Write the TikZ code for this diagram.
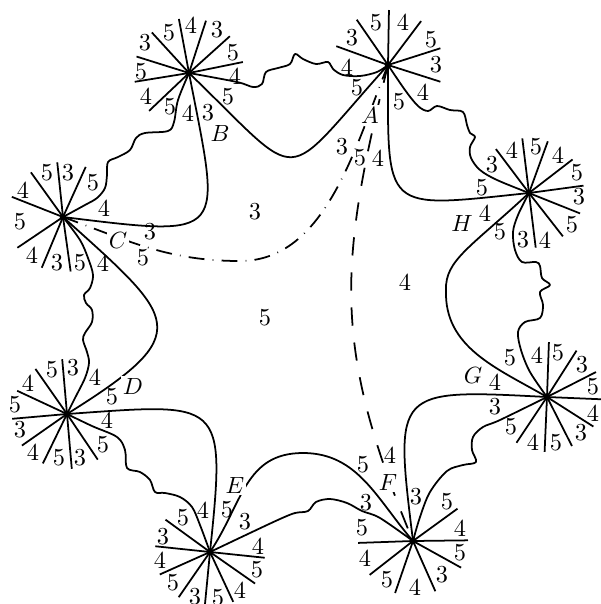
\documentclass[tikz,border=0pt]{standalone}
\begin{document}
\begin{tikzpicture}[x=0.015cm,y=-0.015cm,line width=0.75pt,line join=round,
  num/.style={inner sep=0pt,font=\fontsize{10.4}{12}\selectfont},
  vname/.style={inner sep=0.8pt,fill=white,font=\fontsize{10.4}{12}\selectfont},
  dashdotline/.style={dash pattern=on 6.8pt off 3.5pt on 0.3pt off 3.5pt},
  dashline/.style={dash pattern=on 7.8pt off 7.2pt},
  wav/.style={smooth,tension=0.55}]
\useasboundingbox (0,0) rectangle (601,604);
% vertices
\coordinate (A) at (388,65);
\coordinate (B) at (189,73);
\coordinate (C) at (63,217);
\coordinate (D) at (67,414);
\coordinate (E) at (210,552);
\coordinate (F) at (413,541);
\coordinate (G) at (547,397);
\coordinate (H) at (529,193);
\coordinate (ef) at (303,453);
\coordinate (gh) at (446,290);
\coordinate (ca) at (240,261);
% spokes
\foreach \a in {89,53,17.7,-17.7,160,124.6} \draw (A) -- ++(\a:0.825cm);
\foreach \a in {100.6,72,42,11.5,-136.5,-170.8,162.6,132.5} \draw (B) -- ++(\a:0.825cm);
\foreach \a in {96,65.6,-82,-112.7,-146,158.5,125.7} \draw (C) -- ++(\a:0.825cm);
\foreach \a in {95,-56,-85,-116,-145,-175,155,125} \draw (D) -- ++(\a:0.825cm);
\foreach \a in {-6,-35,-65,-95.5,-124.7,-155.9,174,144} \draw (E) -- ++(\a:0.825cm);
\foreach \a in {36,0.7,-29,-66,-109,-142,-178} \draw (F) -- ++(\a:0.825cm);
\foreach \a in {88,57.5,27,-2.4,-32.5,-63,-92.5,-123.7} \draw (G) -- ++(\a:0.825cm);
\foreach \a in {127,97,70,37.6,7.7,-21.8,-52,-83} \draw (H) -- ++(\a:0.825cm);
% smooth edges
\draw (B) to[out=-44,in=-132,looseness=2.1] (A);
\draw (B) to[out=-79,in=-7,looseness=2.25] (C);
\draw (C) to[out=-42,in=32,looseness=2.0] (D);
\draw (D) to[out=4,in=84,looseness=2.0] (E);
\draw (E) to[out=56,in=180,looseness=1.1] (ef) to[out=0,in=131] (F);
\draw (F) to[out=97,in=177,looseness=2.0] (G);
\draw (G) to[out=150,in=-92] (gh) to[out=92,in=-137,out looseness=0.6,in looseness=1.6] (H);
\draw (A) to[out=-90,in=-174,looseness=2.0] (H);
% wavy edges
\draw plot[wav] coordinates {(B) (237,82) (253,87) (262,84) (266,72) (278,68) (290,64) (295,54) (303,59) (316,64) (328,62) (333,69) (343,75) (360,76) (377,72) (A)};
\draw plot[wav] coordinates {(B) (178,100) (174,122) (168,131) (145,133) (136,138) (130,150) (118,157) (108,162) (107,175) (105,188) (97,198) (85,205) (C)};
\draw plot[wav] coordinates {(C) (80,240) (88,258) (93,275) (90,288) (84,295) (86,303) (92,310) (92,322) (85,333) (83,340) (87,352) (89,363) (85,378) (75,398) (D)};
\draw plot[wav] coordinates {(D) (92,426) (117,437) (125,450) (127,468) (140,472) (150,480) (155,492) (165,493) (180,497) (192,507) (200,525) (E)};
\draw plot[wav] coordinates {(E) (250,533) (280,519) (295,513) (308,511) (316,502) (330,499) (347,503) (362,511) (380,518) (F)};
\draw plot[wav] coordinates {(F) (420,517) (430,492) (447,471) (463,465) (476,462) (472,450) (473,437) (483,427) (500,420) (G)};
\draw plot[wav] coordinates {(G) (530,372) (521,350) (518,332) (525,322) (540,318) (543,305) (540,292) (550,285) (542,278) (540,266) (536,262) (522,262) (515,250) (513,232) (518,215) (H)};
\draw plot[wav] coordinates {(A) (405,90) (418,106) (428,111) (437,106) (450,110) (463,112) (467,125) (470,133) (475,137) (470,147) (471,158) (480,170) (497,180) (H)};
% special edges
\draw[dashline] (A) to[out=-104,in=112.6,looseness=1.12] (F);
\draw[dashdotline] (C) to[out=-20,in=180] (ca) to[out=0,in=-112,looseness=0.9] (A);
% vertex names
\node[vname] (nA) at (370,115) {$A$};
\node[vname] (nB) at (220,133) {$B$};
\node[vname] (nC) at (118,240) {$C$};
\node[vname] (nD) at (133,386) {$D$};
\node[vname] (nE) at (235,485) {$E$};
\node[vname] (nF) at (388,482) {$F$};
\node[vname] (nG) at (473,375) {$G$};
\node[vname] (nH) at (462,223) {$H$};
% face labels
\node[num] (f3) at (255,212) {3};
\node[num] (f5) at (265,318) {5};
\node[num] (f4) at (405,282) {4};
% A labels
\node[num] (a1) at (403,22) {4};
\node[num] (a2) at (431,40) {5};
\node[num] (a3) at (436,65) {3};
\node[num] (a4) at (423,92) {4};
\node[num] (a5) at (399,102) {5};
\node[num] (a6) at (378,158) {4};
\node[num] (a7) at (360,158) {5};
\node[num] (a8) at (342,147) {3};
\node[num] (a9) at (357,88) {5};
\node[num] (a10) at (347,67) {4};
\node[num] (a11) at (352,38) {3};
\node[num] (a12) at (376,23) {5};
% B labels
\node[num] (b1) at (191,25) {4};
\node[num] (b2) at (217,30) {3};
\node[num] (b3) at (233,53) {5};
\node[num] (b4) at (235,76) {4};
\node[num] (b5) at (228,97) {5};
\node[num] (b6) at (208,113) {3};
\node[num] (b7) at (188,113) {4};
\node[num] (b8) at (170,107) {5};
\node[num] (b9) at (146,96) {4};
\node[num] (b10) at (141,72) {5};
\node[num] (b11) at (145,43) {3};
\node[num] (b12) at (169,33) {5};
% C labels
\node[num] (c1) at (68,173) {3};
\node[num] (c2) at (93,183) {5};
\node[num] (c3) at (104,208) {4};
\node[num] (c4) at (150,232) {3};
\node[num] (c5) at (143,258) {5};
\node[num] (c6) at (103,263) {4};
\node[num] (c7) at (80,263) {5};
\node[num] (c8) at (57,263) {3};
\node[num] (c9) at (32,255) {4};
\node[num] (c10) at (20,222) {5};
\node[num] (c11) at (23,190) {4};
\node[num] (c12) at (47,173) {5};
% D labels
\node[num] (d1) at (73,368) {3};
\node[num] (d2) at (95,377) {4};
\node[num] (d3) at (112,397) {5};
\node[num] (d4) at (107,420) {4};
\node[num] (d5) at (103,445) {5};
\node[num] (d6) at (80,458) {3};
\node[num] (d7) at (59,458) {5};
\node[num] (d8) at (33,452) {4};
\node[num] (d9) at (20,430) {3};
\node[num] (d10) at (15,405) {5};
\node[num] (d11) at (28,383) {4};
\node[num] (d12) at (52,370) {5};
% E labels
\node[num] (e1) at (227,510) {5};
\node[num] (e2) at (245,522) {3};
\node[num] (e3) at (258,546) {4};
\node[num] (e4) at (257,570) {5};
\node[num] (e5) at (240,590) {4};
\node[num] (e6) at (218,598) {5};
\node[num] (e7) at (195,597) {3};
\node[num] (e8) at (173,583) {5};
\node[num] (e9) at (160,560) {4};
\node[num] (e10) at (163,537) {3};
\node[num] (e11) at (183,518) {5};
\node[num] (e12) at (203,510) {4};
% F labels
\node[num] (g1) at (416,497) {3};
\node[num] (g2) at (447,502) {5};
\node[num] (g3) at (460,528) {4};
\node[num] (g4) at (460,553) {5};
\node[num] (g5) at (442,575) {3};
\node[num] (g6) at (415,587) {4};
\node[num] (g7) at (387,580) {5};
\node[num] (g8) at (365,558) {4};
\node[num] (g9) at (362,528) {5};
\node[num] (g10) at (366,503) {3};
\node[num] (g11) at (363,465) {5};
\node[num] (g12) at (390,455) {4};
% G labels
\node[num] (h1) at (558,353) {5};
\node[num] (h2) at (582,365) {3};
\node[num] (h3) at (593,387) {5};
\node[num] (h4) at (593,413) {4};
\node[num] (h5) at (581,433) {3};
\node[num] (h6) at (556,443) {5};
\node[num] (h7) at (533,442) {4};
\node[num] (h8) at (511,427) {5};
\node[num] (h9) at (495,407) {3};
\node[num] (h10) at (495,382) {4};
\node[num] (h11) at (510,358) {5};
\node[num] (h12) at (537,355) {4};
% H labels
\node[num] (k1) at (492,165) {3};
\node[num] (k2) at (512,150) {4};
\node[num] (k3) at (536,147) {5};
\node[num] (k4) at (558,155) {4};
\node[num] (k5) at (577,173) {5};
\node[num] (k6) at (579,197) {3};
\node[num] (k7) at (572,225) {5};
\node[num] (k8) at (545,240) {4};
\node[num] (k9) at (523,240) {3};
\node[num] (k10) at (500,232) {5};
\node[num] (k11) at (485,213) {4};
\node[num] (k12) at (482,188) {5};
% vertex dots
\foreach \v in {A,B,C,D,E,F,G,H} \fill (\v) circle (1.4pt);
\end{tikzpicture}
\end{document}
